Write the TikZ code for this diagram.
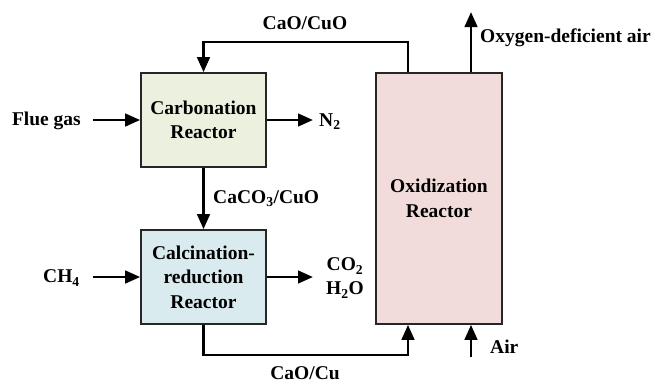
\documentclass[tikz,border=0pt]{standalone}
\usepackage{fontspec}
\setmainfont{Liberation Serif}
\usetikzlibrary{arrows.meta}
\tikzset{
  reactor/.style={draw=black!85, line width=1.6pt, align=center, font=\fontsize{19.5}{24.5}\selectfont\bfseries, inner sep=0pt},
  lbl/.style={font=\fontsize{19.5}{24}\selectfont\bfseries, inner sep=0pt, align=center},
  arr/.style={line width=2.8pt, -{Triangle[length=15pt,width=12.5pt]}},
}
\begin{document}
\begin{tikzpicture}[x=1pt,y=-1pt]
\useasboundingbox (0,0) rectangle (656,384);
\node[reactor, fill={rgb,255:red,235;green,241;blue,222}, minimum width=125pt, minimum height=94pt] (carb) at (203.5,120) {Carbonation\\Reactor};
\node[reactor, fill={rgb,255:red,218;green,235;blue,240}, minimum width=125pt, minimum height=94pt] (calc) at (203.5,277) {Calcination-\\reduction\\Reactor};
\node[reactor, fill={rgb,255:red,242;green,220;blue,219}, minimum width=126pt, minimum height=251pt] (oxid) at (439,198.5) {Oxidization\\Reactor};

\node[lbl, anchor=east] (flue) at (81,121) {Flue gas};
\node[lbl, anchor=east] (ch4) at (80,278) {CH\textsubscript{4}};
\node[lbl, anchor=west] (n2) at (319,122) {N\textsubscript{2}};
\node[lbl] (co2) at (345,278) {CO\textsubscript{2}\\H\textsubscript{2}O};
\node[lbl, anchor=west] (caco3) at (213,199) {CaCO\textsubscript{3}/CuO};
\node[lbl] (caocuo) at (305,23) {CaO/CuO};
\node[lbl] (caocu) at (305,373) {CaO/Cu};
\node[lbl, anchor=west] (oda) at (480,38) {Oxygen-deficient air};
\node[lbl, anchor=west] (air) at (490,347) {Air};

\coordinate (topr) at (408,42);
\coordinate (botl) at (204,355);
\coordinate (odtip) at (471,12);
\coordinate (airst) at (471,357);
\coordinate (fluest) at (93,120);
\coordinate (n2end) at (313,120);
\coordinate (ch4st) at (93,277);
\coordinate (co2end) at (313,277);

\draw[arr] ([xshift=-31pt]oxid.north) -- (topr) -| (carb.north);
\draw[arr] ([xshift=32pt]oxid.north) -- (odtip);
\draw[arr] (fluest) -- (carb.west);
\draw[arr] (carb.east) -- (n2end);
\draw[arr] (carb.south) -- (calc.north);
\draw[arr] (ch4st) -- (calc.west);
\draw[arr] (calc.east) -- (co2end);
\draw[arr] (calc.south) |- (botl -| topr) -- ([xshift=-31pt]oxid.south);
\draw[arr] (airst) -- ([xshift=32pt]oxid.south);
\end{tikzpicture}
\end{document}
